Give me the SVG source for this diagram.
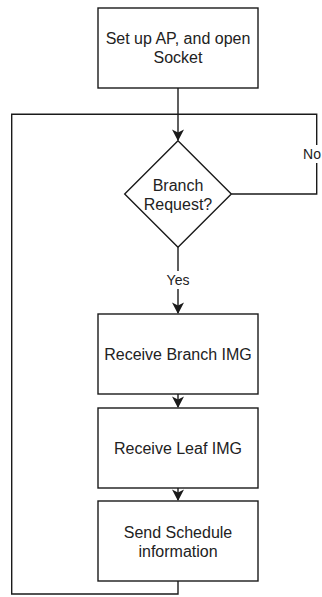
<svg xmlns="http://www.w3.org/2000/svg" width="322" height="597" viewBox="0 0 322 597">
  <style>
    .shape { fill: #ffffff; stroke: #1a1a1a; stroke-width: 1.4; }
    .edge { fill: none; stroke: #1a1a1a; stroke-width: 1.4; }
    .head { fill: #1a1a1a; }
    .txt { font-family: "Liberation Sans", Arial, Helvetica, sans-serif; font-size: 16px; fill: #222; text-anchor: middle; dominant-baseline: central; }
    .lbl { font-family: "Liberation Sans", Arial, Helvetica, sans-serif; font-size: 14px; fill: #222; text-anchor: middle; dominant-baseline: central; }
    .lblbg { fill: #ffffff; }
  </style>
  <defs>
    <!-- classic notched arrowhead, tip at the origin, pointing down -->
    <path id="head" class="head" d="M-6,-11.5 L0,0 L6,-11.5 L0,-8.5 Z"/>
  </defs>
  <rect width="322" height="597" fill="#ffffff"/>

  <!-- connectors -->
  <g id="edges">
    <!-- setup -> decision -->
    <path class="edge" d="M178,88 V140"/>
    <use href="#head" x="178" y="141"/>
    <!-- decision -> receive branch (Yes) -->
    <path class="edge" d="M178,247.3 V313"/>
    <use href="#head" x="178" y="314"/>
    <!-- receive branch -> receive leaf -->
    <path class="edge" d="M178,394 V407"/>
    <use href="#head" x="178" y="408"/>
    <!-- receive leaf -> send schedule -->
    <path class="edge" d="M178,488 V500"/>
    <use href="#head" x="178" y="501"/>
    <!-- No branch: loop back to decision -->
    <path class="edge" d="M231.3,194 H316.7 V114.3 H178"/>
    <!-- send schedule: loop back to top -->
    <path class="edge" d="M178,581 V594 H11.7 V114.3 H178"/>
    <!-- edge labels -->
    <rect class="lblbg" x="302" y="145" width="20" height="18"/>
    <text class="lbl" x="312" y="154">No</text>
    <rect class="lblbg" x="165" y="271" width="26" height="18"/>
    <text class="lbl" x="178" y="280">Yes</text>
  </g>

  <g id="setup">
    <rect class="shape" x="98" y="8" width="160" height="80"/>
    <text class="txt" x="178" y="38.5">Set up AP, and open</text>
    <text class="txt" x="178" y="57.5">Socket</text>
  </g>

  <g id="decision">
    <polygon class="shape" points="178,140.7 231.3,194 178,247.3 124.7,194"/>
    <text class="txt" x="178" y="185">Branch</text>
    <text class="txt" x="178" y="204">Request?</text>
  </g>

  <g id="receive-branch">
    <rect class="shape" x="98" y="314" width="160" height="80"/>
    <text class="txt" x="178" y="354">Receive Branch IMG</text>
  </g>

  <g id="receive-leaf">
    <rect class="shape" x="98" y="408" width="160" height="80"/>
    <text class="txt" x="178" y="448">Receive Leaf IMG</text>
  </g>

  <g id="send-schedule">
    <rect class="shape" x="98" y="501" width="160" height="80"/>
    <text class="txt" x="178" y="532">Send Schedule</text>
    <text class="txt" x="178" y="551">information</text>
  </g>
</svg>
